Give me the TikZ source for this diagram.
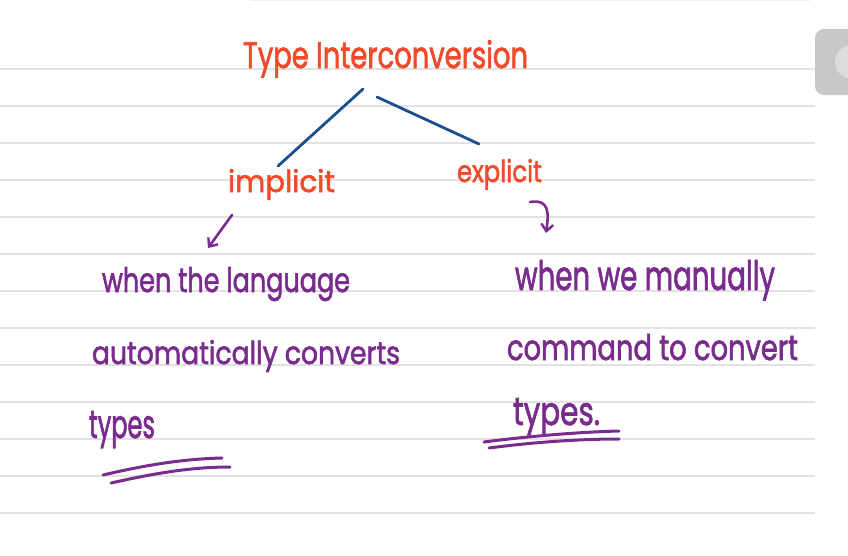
\documentclass[tikz,border=0pt]{standalone}
\usepackage{fontspec}
\setmainfont{Poppins}
\newfontfamily\inkfont{Poppins}[FakeBold=2]
\usepackage{graphicx}
\usetikzlibrary{arrows.meta}
\definecolor{inkred}{HTML}{F04A2B}
\definecolor{inkpurple}{HTML}{7A2C8E}
\definecolor{inkblue}{HTML}{1B4F8E}
\definecolor{ruleline}{HTML}{E2E2E2}
\definecolor{tabgray}{HTML}{C8C8C8}
\definecolor{tablight}{HTML}{DCDCDC}
\newcommand{\hwtext}[3]{\resizebox{#1pt}{#2pt}{\inkfont #3}}
\tikzset{
  hw/.style={inner sep=0pt, outer sep=0pt, anchor=base west},
  redink/.style={hw, text=inkred},
  purpleink/.style={hw, text=inkpurple},
  branch/.style={draw=inkblue, line width=2.8pt, line cap=round},
  pointer/.style={draw=inkpurple, line width=2.6pt, line cap=round, line join=round,
    -{Straight Barb[length=7pt, width=12pt, line width=2.4pt]}},
  underline/.style={draw=inkpurple, line width=3pt, line cap=round},
  rule/.style={draw=ruleline, line width=1.4pt}
}
\begin{document}
\begin{tikzpicture}[x=1pt, y=-1pt]
\useasboundingbox (0,0) rectangle (848,555);
\fill[white] (0,0) rectangle (848,555);
% ruled lines
\foreach \yy in {69,106,143,180,217,254,291,328,365,402,439,476,513}
  \draw[rule] (0,\yy) -- (815,\yy);
\draw[draw=ruleline!60, line width=1.2pt] (250,0.6) -- (810,0.6);
% side tab
\begin{scope}
\clip (0,0) rectangle (848,555);
\fill[tabgray, rounded corners=9pt] (815,29) rectangle (875,95);
\fill[tablight] (852,62) circle (17);
\end{scope}
% title and branches
\node[redink] (title) at (243,68) {\hwtext{285}{28}{Type Interconversion}};
\node[redink] (implicit) at (228,192) {\hwtext{107}{23}{implicit}};
\node[redink] (explicit) at (457,182) {\hwtext{85}{23}{explicit}};
\coordinate (t1) at (363,89);
\coordinate (i1) at (278,166);
\coordinate (t2) at (377,97);
\coordinate (e1) at (479,144);
\draw[branch] (t1) -- (i1);
\draw[branch] (t2) -- (e1);
% pointers
\coordinate (ia) at (232,215);
\coordinate (ib) at (208,248);
\draw[pointer] (ia) -- (ib);
\coordinate (ea) at (530,202);
\coordinate (eb) at (546,233);
\draw[pointer] (ea) .. controls (549,199) and (549,212) .. (eb);
% left description
\node[purpleink] (l1) at (102,292) {\hwtext{248}{25}{when the language}};
\node[purpleink] (l2) at (92,364) {\hwtext{308}{24}{automatically converts}};
\node[purpleink] (l3) at (89,438) {\hwtext{66}{27}{types}};
\coordinate (lu1a) at (103,475);
\coordinate (lu1b) at (222,458);
\coordinate (lu2a) at (111,483);
\coordinate (lu2b) at (230,467);
\draw[underline] (lu1a) .. controls (150,464) and (185,459) .. (lu1b);
\draw[underline] (lu2a) .. controls (160,472) and (195,467) .. (lu2b);
% right description
\node[purpleink] (r1) at (515,290) {\hwtext{260}{30}{when we manually}};
\node[purpleink] (r2) at (507,360) {\hwtext{291}{26}{command to convert}};
\node[purpleink] (r3) at (513,425) {\hwtext{87}{27}{types.}};
\coordinate (ru1a) at (484,442);
\coordinate (ru1b) at (619,431);
\coordinate (ru2a) at (489,448);
\coordinate (ru2b) at (619,439);
\draw[underline] (ru1a) .. controls (530,436) and (580,432) .. (ru1b);
\draw[underline] (ru2a) .. controls (535,442) and (580,439) .. (ru2b);
\end{tikzpicture}
\end{document}
